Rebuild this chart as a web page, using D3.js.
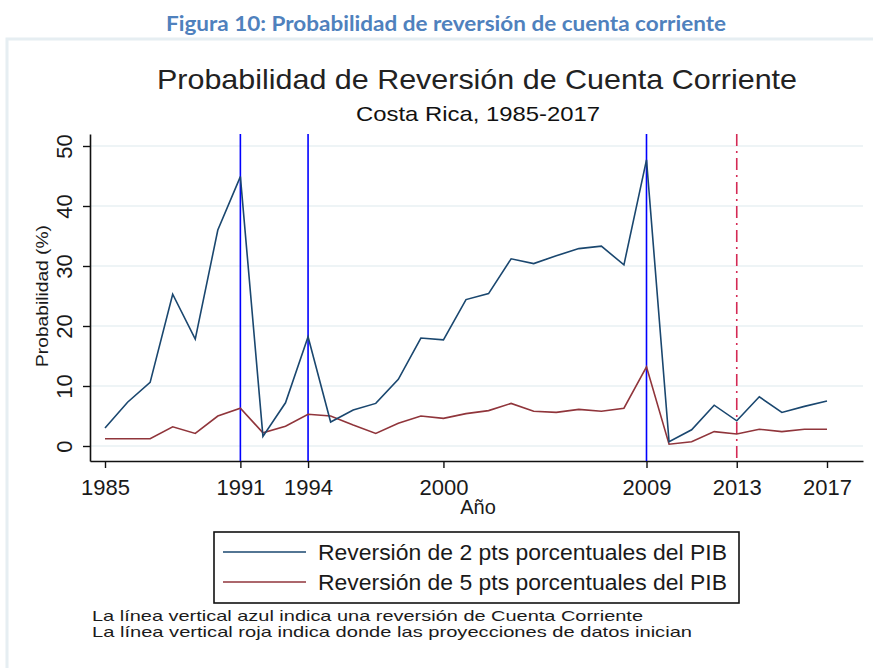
<!DOCTYPE html>
<html>
<head>
<meta charset="utf-8">
<script src="https://cdn.jsdelivr.net/npm/d3@7"></script>
<style>
  body { margin: 0; background: #fff; }
  text { font-family: "Liberation Sans", Arial, sans-serif; fill: #1a1a1a; }
</style>
</head>
<body>
<svg id="chart"></svg>
<script>
const width = 873;
const height = 668;

// data
const years = d3.range(1985, 2018);
const rev2 = [3.0, 7.3, 10.6, 25.3, 17.8, 36.0, 44.9, 1.6, 7.2, 18.2, 4.0, 6.0, 7.1, 11.1, 18.0, 17.7,
  24.4, 25.4, 31.2, 30.4, 31.7, 32.9, 33.3, 30.2, 47.7, 0.7, 2.7, 6.8, 4.2, 8.2, 5.6, 6.6, 7.5];
const rev5 = [1.2, 1.2, 1.2, 3.2, 2.1, 5.0, 6.3, 2.2, 3.3, 5.3, 5.0, 3.5, 2.1, 3.8, 5.0, 4.6,
  5.4, 5.9, 7.1, 5.8, 5.6, 6.1, 5.8, 6.3, 13.2, 0.3, 0.7, 2.4, 2.0, 2.8, 2.4, 2.8, 2.8];
const reversalYears = [1991, 1994, 2009];
const projectionYear = 2013;
const xTicks = [1985, 1991, 1994, 2000, 2009, 2013, 2017];
const yTicks = [0, 10, 20, 30, 40, 50];
const seriesNames = ["Reversión de 2 pts porcentuales del PIB", "Reversión de 5 pts porcentuales del PIB"];
const notes = ["La línea vertical azul indica una reversión de Cuenta Corriente",
  "La línea vertical roja indica donde las proyecciones de datos inician"];

const blue = "#1a476f";
const red = "#90353b";

const svg = d3.select("#chart").attr("width", width).attr("height", height);

// page caption + image frame
svg.append("text")
  .attr("x", 446).attr("y", 31)
  .attr("text-anchor", "middle")
  .attr("textLength", 560).attr("lengthAdjust", "spacingAndGlyphs")
  .style("font-family", "Lato, 'Open Sans', sans-serif")
  .style("font-weight", "bold").style("font-size", "20px")
  .style("fill", "#4f81bd")
  .text("Figura 10: Probabilidad de reversión de cuenta corriente");

svg.append("path")
  .attr("d", "M7,668 V39 H873")
  .attr("fill", "none").attr("stroke", "#e6eef2").attr("stroke-width", 3);

const plot = { left: 90, right: 863, top: 134, bottom: 461 };

const x = d3.scaleLinear()
  .domain([1985 - 15 / 22.56, 2017 + 36 / 22.56])
  .range([plot.left, plot.right]);
const y = d3.scaleLinear().domain([-2.5, 52]).range([plot.bottom, plot.top]);

// titles
svg.append("text")
  .attr("x", 477).attr("y", 89).attr("text-anchor", "middle")
  .attr("textLength", 640).attr("lengthAdjust", "spacingAndGlyphs")
  .style("font-size", "28px").style("fill", "#222")
  .text("Probabilidad de Reversión de Cuenta Corriente");
svg.append("text")
  .attr("x", 478).attr("y", 121).attr("text-anchor", "middle")
  .attr("textLength", 244).attr("lengthAdjust", "spacingAndGlyphs")
  .style("font-size", "21px").style("fill", "#111")
  .text("Costa Rica, 1985-2017");

// grid
svg.append("g").selectAll("line").data(yTicks).join("line")
  .attr("x1", plot.left).attr("x2", plot.right)
  .attr("y1", d => y(d)).attr("y2", d => y(d))
  .attr("stroke", "#e8f0f3").attr("stroke-width", 1.5);

// axes
const yAxis = svg.append("g")
  .attr("transform", `translate(${plot.left},0)`)
  .call(d3.axisLeft(y).tickValues(yTicks).tickSize(7).tickSizeOuter(0));
yAxis.select(".domain").attr("stroke", "#111").attr("stroke-width", 1.6);
yAxis.selectAll(".tick line").attr("stroke", "#111").attr("stroke-width", 1.4);
yAxis.selectAll(".tick text")
  .attr("x", null).attr("dy", null)
  .attr("transform", "translate(-18,0) rotate(-90)")
  .attr("text-anchor", "middle")
  .style("font-size", "22px").style("font-family", "'Liberation Sans', Arial, sans-serif")
  .attr("fill", "#1a1a1a");

const xAxis = svg.append("g")
  .attr("transform", `translate(0,${plot.bottom})`)
  .call(d3.axisBottom(x).tickValues(xTicks).tickFormat(d3.format("d")).tickSize(7).tickSizeOuter(0));
xAxis.select(".domain").attr("stroke", "#111").attr("stroke-width", 1.6);
xAxis.selectAll(".tick line").attr("stroke", "#111").attr("stroke-width", 1.4);
xAxis.selectAll(".tick text")
  .attr("y", 34).attr("dy", null)
  .style("font-size", "22px").style("font-family", "'Liberation Sans', Arial, sans-serif")
  .attr("fill", "#1a1a1a");

svg.append("text")
  .attr("transform", "translate(48,296) rotate(-90)")
  .attr("text-anchor", "middle")
  .attr("textLength", 142).attr("lengthAdjust", "spacingAndGlyphs")
  .style("font-size", "17px")
  .text("Probabilidad (%)");
svg.append("text")
  .attr("x", 478).attr("y", 514).attr("text-anchor", "middle")
  .style("font-size", "20px")
  .text("Año");

// vertical reference lines
svg.append("g").selectAll("line").data(reversalYears).join("line")
  .attr("x1", d => x(d)).attr("x2", d => x(d))
  .attr("y1", plot.top).attr("y2", plot.bottom)
  .attr("stroke", "#0000ff").attr("stroke-width", 1.6);
svg.append("line")
  .attr("x1", x(projectionYear)).attr("x2", x(projectionYear))
  .attr("y1", plot.top).attr("y2", plot.bottom)
  .attr("stroke", "#d42a55").attr("stroke-width", 1.6)
  .attr("stroke-dasharray", "12,5,2,5");

// series
const line = d3.line().x((d, i) => x(years[i])).y(d => y(d));
svg.append("path").datum(rev5)
  .attr("d", line).attr("fill", "none").attr("stroke", red).attr("stroke-width", 1.6);
svg.append("path").datum(rev2)
  .attr("d", line).attr("fill", "none").attr("stroke", blue).attr("stroke-width", 1.6);

// legend
const legend = svg.append("g");
legend.append("rect")
  .attr("x", 214).attr("y", 532).attr("width", 525).attr("height", 71)
  .attr("fill", "#fff").attr("stroke", "#111").attr("stroke-width", 1.6);
const items = legend.selectAll("g.item").data(seriesNames).join("g")
  .attr("class", "item")
  .attr("transform", (d, i) => `translate(0,${552 + i * 30})`);
items.append("line")
  .attr("x1", 223).attr("x2", 306)
  .attr("stroke", (d, i) => [blue, red][i]).attr("stroke-width", 1.6);
items.append("text")
  .attr("x", 318).attr("y", 8)
  .attr("textLength", 409).attr("lengthAdjust", "spacingAndGlyphs")
  .style("font-size", "22px")
  .text(d => d);

// notes
svg.append("g").selectAll("text").data(notes).join("text")
  .attr("x", 92).attr("y", (d, i) => 621 + i * 16)
  .attr("textLength", (d, i) => [551, 600][i]).attr("lengthAdjust", "spacingAndGlyphs")
  .style("font-size", "15px")
  .text(d => d);
</script>
</body>
</html>
